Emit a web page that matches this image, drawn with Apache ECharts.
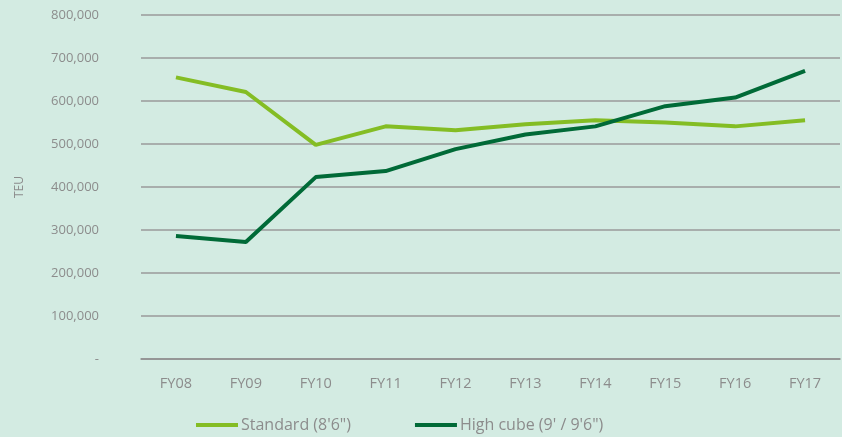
<!DOCTYPE html>
<html>
<head>
<meta charset="utf-8">
<script src="https://cdn.jsdelivr.net/npm/echarts@6/dist/echarts.min.js"></script>
<style>
  html, body { margin: 0; padding: 0; background: #d3ebe2; }
  #chart { width: 842px; height: 437px; }
</style>
</head>
<body>
<div id="chart"></div>
<script>
// data
var categories = ['FY08', 'FY09', 'FY10', 'FY11', 'FY12', 'FY13', 'FY14', 'FY15', 'FY16', 'FY17']
var standard = [655000, 621000, 498000, 541000, 532000, 546000, 555000, 550000, 541000, 555000]
var highCube = [286000, 272000, 423000, 437000, 488000, 522000, 541000, 588000, 608000, 670000]
var seriesNames = ['Standard (8\'6")', 'High cube (9\' / 9\'6")']

var labelColor = '#8c8c8c'
var myChart = echarts.init(document.getElementById('chart'))

myChart.setOption({
  backgroundColor: '#d3ebe2',
  textStyle: { fontFamily: 'Open Sans' },
  color: ['#84bd24', '#006a37'],
  legend: {
    data: seriesNames,
    bottom: 4,
    left: 196,
    padding: 0,
    itemGap: 64,
    itemWidth: 42,
    itemHeight: 4,
    icon: 'rect',
    textStyle: { color: labelColor, fontSize: 16, padding: [0, 0, 0, -2] }
  },
  grid: { left: 141, right: 2, top: 15, bottom: 78 },
  xAxis: {
    type: 'category',
    data: categories,
    axisLine: { lineStyle: { color: '#8f8f8f', width: 1.5 } },
    axisTick: { show: false },
    axisLabel: { color: labelColor, fontSize: 14.5, margin: 17 }
  },
  yAxis: {
    type: 'value',
    min: 0,
    max: 800000,
    interval: 100000,
    name: 'TEU',
    nameLocation: 'middle',
    nameGap: 115,
    nameTextStyle: { color: labelColor, fontSize: 12 },
    axisLine: { show: false },
    axisTick: { show: false },
    axisLabel: {
      color: labelColor,
      fontSize: 13,
      margin: 42,
      formatter: function (v) {
        return v === 0 ? '-' : v.toLocaleString('en-US')
      }
    },
    splitLine: { lineStyle: { color: '#9a9a9a', width: 1.5 } }
  },
  series: [
    {
      name: seriesNames[0],
      type: 'line',
      data: standard,
      symbol: 'none',
      lineStyle: { width: 4 }
    },
    {
      name: seriesNames[1],
      type: 'line',
      data: highCube,
      symbol: 'none',
      lineStyle: { width: 4 }
    }
  ]
})
</script>
</body>
</html>
